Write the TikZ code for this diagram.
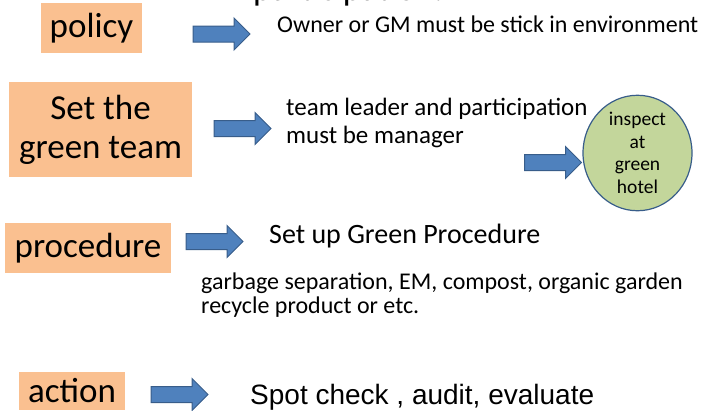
\documentclass[tikz,border=0pt]{standalone}
\usepackage{fontspec}
\setmainfont{Carlito}
\newfontfamily\arialfont{Liberation Sans}
\usetikzlibrary{shapes.arrows, shapes.geometric, positioning}
\definecolor{boxorange}{HTML}{FAC090}
\definecolor{arrowblue}{HTML}{4F81BD}
\definecolor{arrowedge}{HTML}{385D8A}
\definecolor{ovalgreen}{HTML}{C3D69B}
\tikzset{
    x=1pt, y=1pt, % one unit is one pixel of the slide
    stepbox/.style={fill=boxorange, inner sep=0pt, align=center, font=\fontsize{35}{39}\selectfont}, % orange title boxes
    bluearrow/.style={single arrow, draw=arrowedge, fill=arrowblue, line width=1pt,
        inner sep=7.5pt, single arrow head extend=8pt, minimum height=57pt}, % block arrows
    remark/.style={anchor=base west, inner sep=0pt, align=left}, % text beside the arrows (base = last line)
}

\begin{document}
\begin{tikzpicture}[
                        stepSmall/.style={font=\fontsize{24}{23.5}\selectfont},
                    ]
    \useasboundingbox (0,0) rectangle (711,-410);
    \clip (0,0) rectangle (711,-410);

    % left column
    \node[stepbox, minimum width=101pt, minimum height=50pt] (policy) at (91.5,-28) {policy};
    \node[stepbox, minimum width=183pt, minimum height=95pt] (greenteam) at (100.5,-129.5) {Set the\\green team};
    \node[stepbox, minimum width=166pt, minimum height=50pt] (procedure) at (88,-248) {procedure};
    \node[stepbox, minimum width=106pt, minimum height=38pt] (action) at (72,-390.5) {action};

    % arrows
    \node[bluearrow] (arrpolicy) at (217.5,-34) {};
    \node[bluearrow] (arrteam) at (238.5,-128.5) {};
    \node[bluearrow] (arrinspect) at (549,-162.5) {};
    \node[bluearrow] (arrprocedure) at (210.5,-241.5) {};
    \node[bluearrow] (arraction) at (175.5,-394.5) {};

    % texts
    \node[remark, font=\fontsize{35}{39}\selectfont] (partic) at (253,0) {participation.};
    \node[remark, font=\fontsize{24}{28}\selectfont] (owner) at (277,-32) {Owner or GM must be stick in environment};
    \node[remark, font=\fontsize{25}{28}\selectfont] (leader) at (286,-143) {team leader and participation\\must be manager};
    \node[remark, font=\fontsize{28}{32}\selectfont] (setup) at (269,-243) {Set up Green Procedure};
    \node[remark, stepSmall] (garbage) at (201,-313) {garbage separation, EM, compost, organic garden\\recycle product or etc.};
    \node[remark, font=\arialfont\fontsize{28}{32}\selectfont] (spot) at (250,-404) {Spot check , audit, evaluate};

    % inspection oval
    \node[ellipse, draw=arrowedge, fill=ovalgreen, line width=1.2pt, inner sep=0pt,
          minimum width=109pt, minimum height=104pt, align=center,
          font=\fontsize{19.5}{22.7}\selectfont] (inspect) at (637.5,-153) {inspect\\at\\green\\hotel};
\end{tikzpicture}
\end{document}
